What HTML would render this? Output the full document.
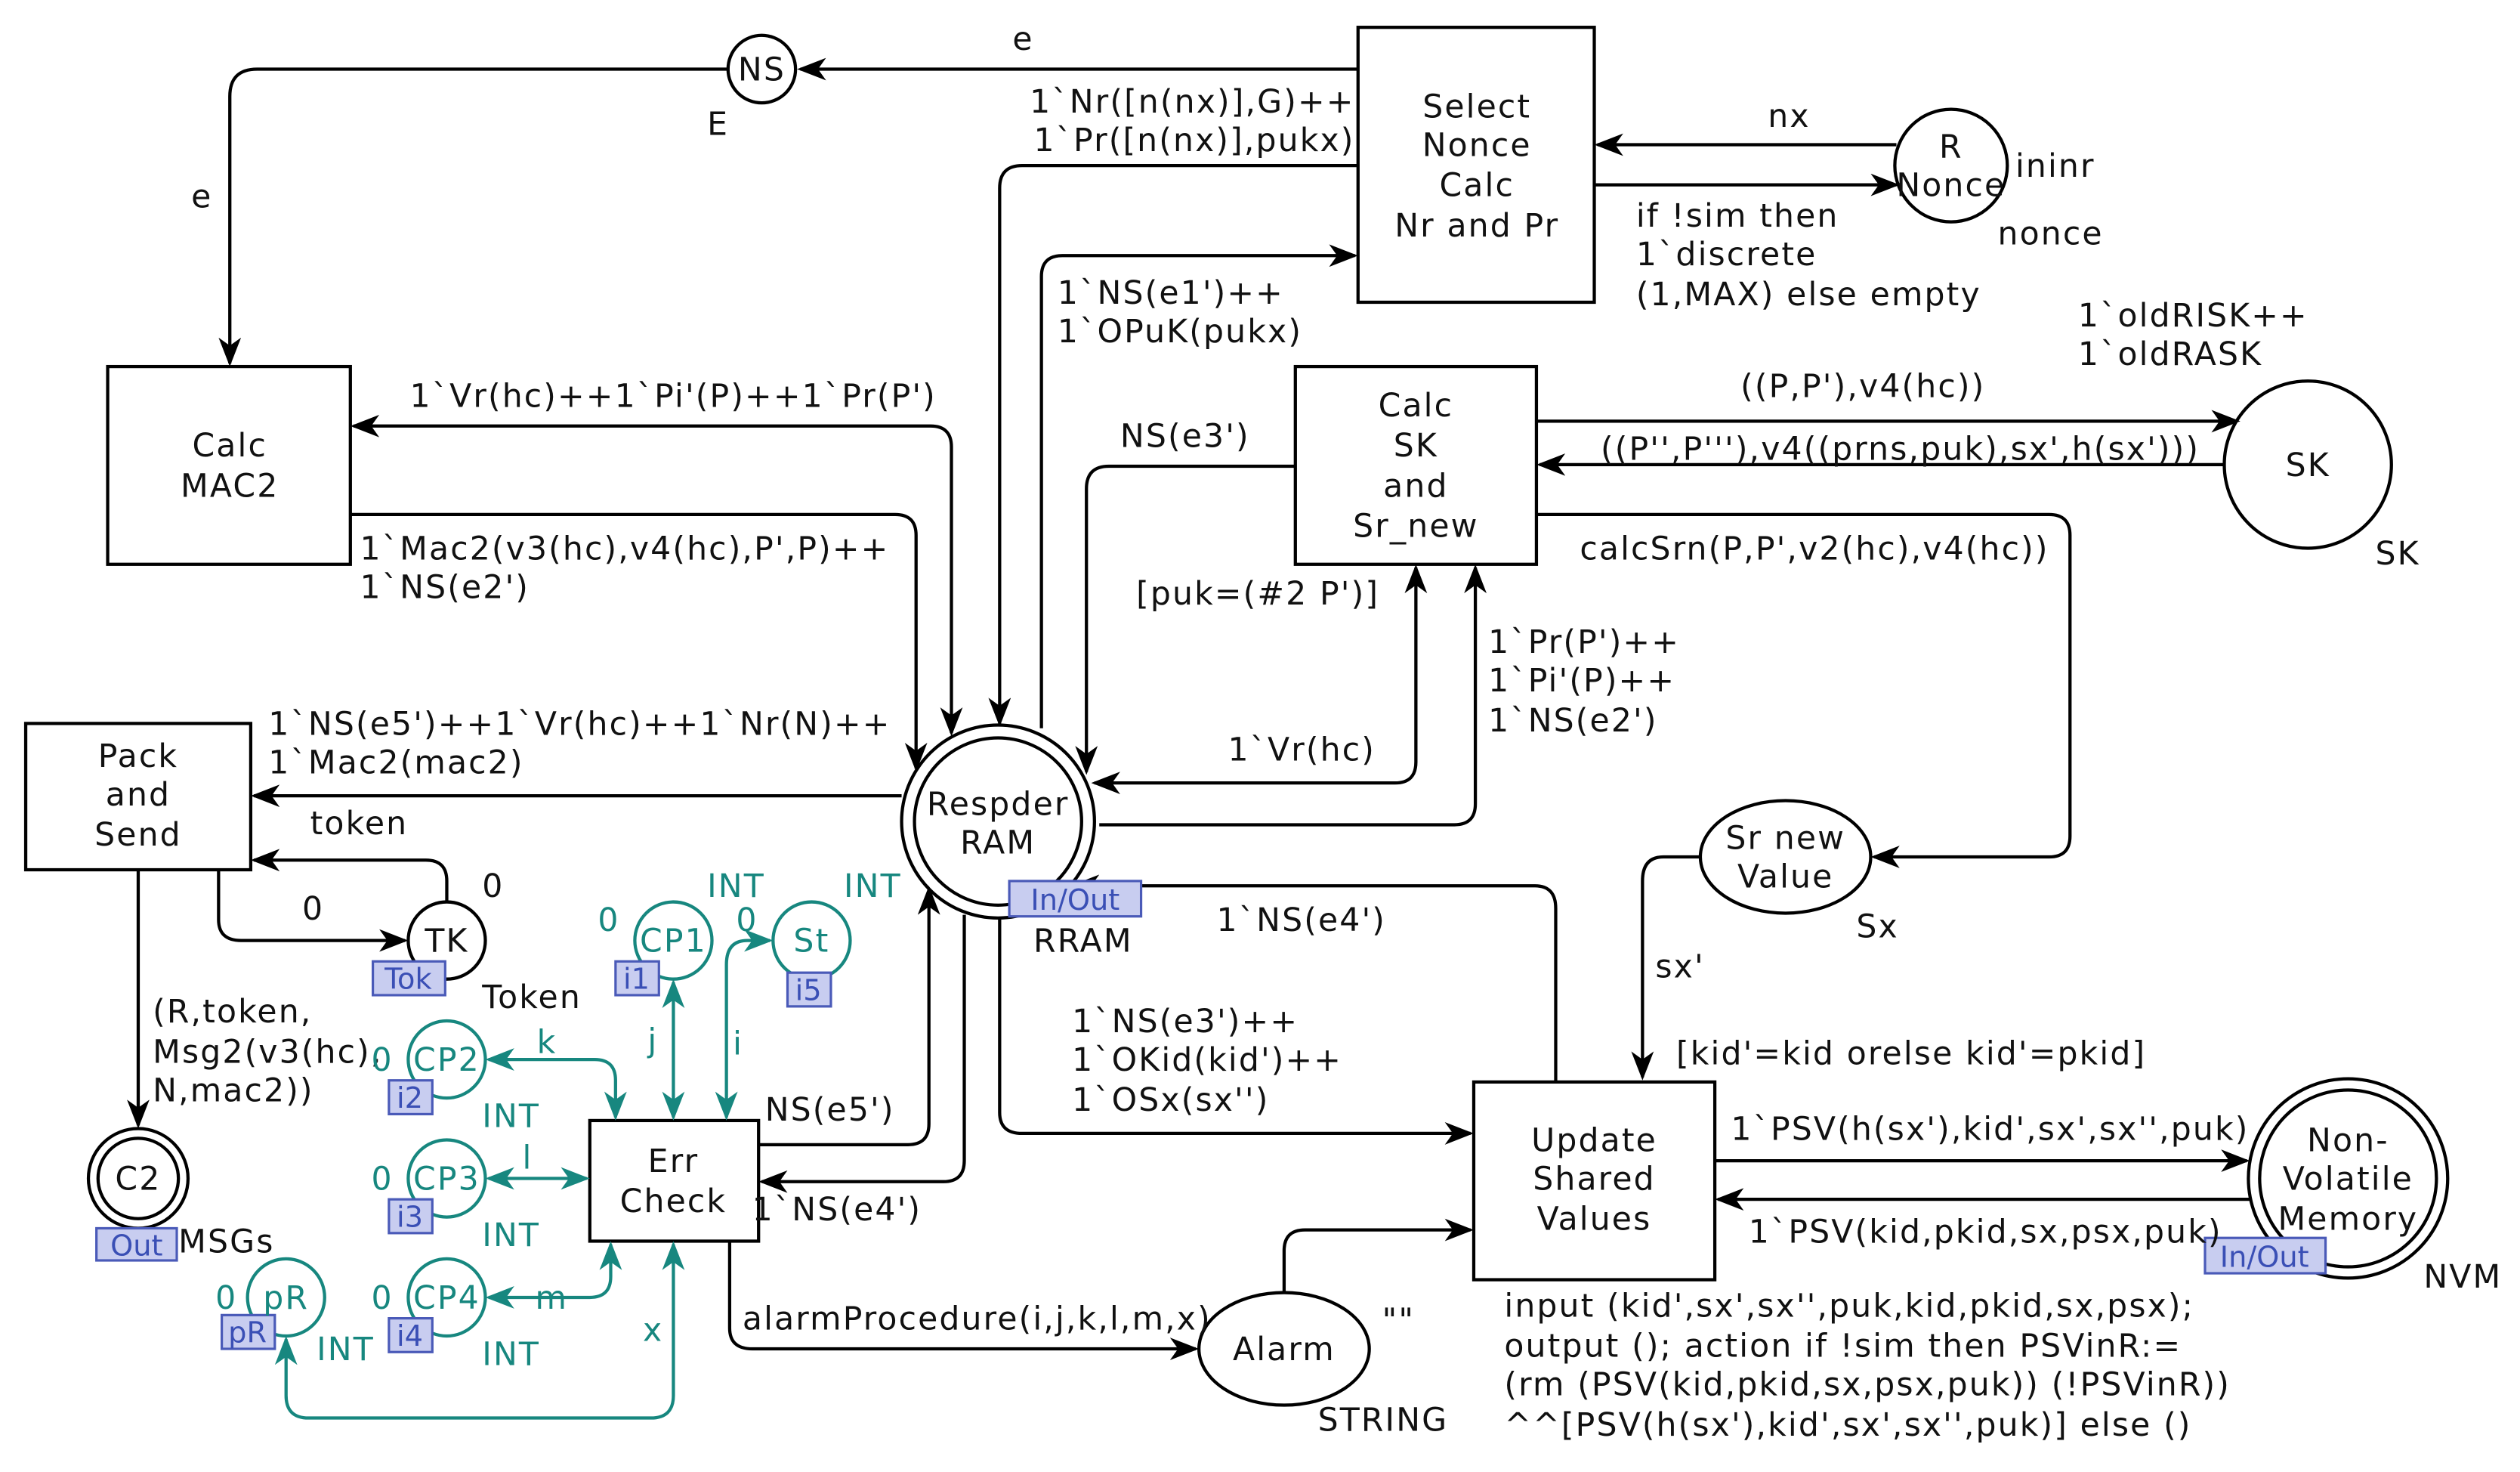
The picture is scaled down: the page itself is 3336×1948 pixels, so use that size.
<!DOCTYPE html>
<html><head><meta charset="utf-8"><style>
html,body{margin:0;padding:0;background:#fff;}
svg{display:block;}
text{font-family:"DejaVu Sans","Liberation Sans",sans-serif;font-size:20px;letter-spacing:1px;fill:#111;}
.t{fill:#17877f;}
.c{text-anchor:middle;}
.r{text-anchor:end;}
.tag{fill:#c8cdf0;stroke:#4a5ab8;stroke-width:1.5;}
.tg{fill:#3a4fb5;font-size:18px;letter-spacing:0;}
</style></head><body>
<svg width="3336" height="1948" viewBox="0 0 1568 915.6" preserveAspectRatio="none" xmlns="http://www.w3.org/2000/svg">
<defs>
<marker id="a" markerUnits="userSpaceOnUse" markerWidth="18" markerHeight="14" refX="16" refY="7" orient="auto-start-reverse"><path d="M0,0 L18,7 L0,14 L5,7 z" fill="#000"/></marker>
<marker id="b" markerUnits="userSpaceOnUse" markerWidth="18" markerHeight="14" refX="16" refY="7" orient="auto-start-reverse"><path d="M0,0 L18,7 L0,14 L5,7 z" fill="#17877f"/></marker>
</defs>
<g fill="none" stroke="#000" stroke-width="2">
<circle cx="474" cy="43" r="21"/>
<rect x="845" y="17" width="147" height="171"/>
<circle cx="1214" cy="103" r="35"/>
<rect x="67" y="228" width="151" height="123"/>
<rect x="806" y="228" width="150" height="123"/>
<circle cx="1436" cy="289" r="52"/>
<ellipse cx="1111" cy="533" rx="53" ry="35"/>
<rect x="917" y="673" width="150" height="123"/>
<circle cx="1461" cy="733" r="62"/><circle cx="1461" cy="733" r="55"/>
<ellipse cx="799" cy="839" rx="53" ry="35"/>
<rect x="367" y="697" width="105" height="75"/>
<circle cx="621" cy="511" r="60"/><circle cx="621" cy="511" r="52"/>
<rect x="16" y="450" width="140" height="91"/>
<circle cx="86" cy="733" r="31"/><circle cx="86" cy="733" r="25"/>
<circle cx="278" cy="585" r="24"/>
<path d="M845,43 L498,43" marker-end="url(#a)"/>
<path d="M453,43 L160,43 Q143,43 143,60 L143,226" marker-end="url(#a)"/>
<path d="M1180,90 L994,90" marker-end="url(#a)"/>
<path d="M992,115 L1180,115" marker-end="url(#a)"/>
<path d="M956,262 L1392,262" marker-end="url(#a)"/>
<path d="M1384,289 L958,289" marker-end="url(#a)"/>
<path d="M956,320 L1275,320 Q1288,320 1288,333 L1288,520 Q1288,533 1275,533 L1166,533" marker-end="url(#a)"/>
<path d="M1058,533 L1035,533 Q1022,533 1022,548 L1022,670" marker-end="url(#a)"/>
<path d="M1067,722 L1398,722" marker-end="url(#a)"/>
<path d="M1400,746 L1069,746" marker-end="url(#a)"/>
<path d="M799,804 L799,778 Q799,765 812,765 L915,765" marker-end="url(#a)"/>
<path d="M454,772 L454,826 Q454,839 468,839 L744,839" marker-end="url(#a)"/>
<path d="M561,495 L158,495" marker-end="url(#a)"/>
<path d="M592,456 L592,278 Q592,265 579,265 L220,265" marker-start="url(#a)" marker-end="url(#a)"/>
<path d="M218,320 L557,320 Q570,320 570,333 L570,478" marker-end="url(#a)"/>
<path d="M845,103 L636,103 Q622,103 622,117 L622,450" marker-end="url(#a)"/>
<path d="M648,453 L648,172 Q648,159 661,159 L843,159" marker-end="url(#a)"/>
<path d="M806,290 L690,290 Q676,290 676,304 L676,480" marker-end="url(#a)"/>
<path d="M681,487 L868,487 Q881,487 881,474 L881,353" marker-start="url(#a)" marker-end="url(#a)"/>
<path d="M684,513 L905,513 Q918,513 918,500 L918,353" marker-end="url(#a)"/>
<path d="M968,673 L968,565 Q968,551 955,551 L668,551" marker-end="url(#a)"/>
<path d="M622,571 L622,692 Q622,705 636,705 L915,705" marker-end="url(#a)"/>
<path d="M472,712 L565,712 Q578,712 578,699 L578,553" marker-end="url(#a)"/>
<path d="M600,569 L600,722 Q600,735 587,735 L474,735" marker-end="url(#a)"/>
<path d="M86,541 L86,700" marker-end="url(#a)"/>
<path d="M136,541 L136,572 Q136,585 150,585 L252,585" marker-end="url(#a)"/>
<path d="M278,561 L278,548 Q278,535 265,535 L158,535" marker-end="url(#a)"/>
</g>
<g fill="none" stroke="#17877f" stroke-width="2">
<circle cx="419" cy="585" r="24"/>
<circle cx="505" cy="585" r="24"/>
<circle cx="278" cy="659" r="24"/>
<circle cx="278" cy="733" r="24"/>
<circle cx="278" cy="807" r="24"/>
<circle cx="178" cy="807" r="24"/>
<path d="M419,611 L419,695" marker-start="url(#b)" marker-end="url(#b)"/>
<path d="M479,585 L465,585 Q452,585 452,600 L452,695" marker-start="url(#b)" marker-end="url(#b)"/>
<path d="M304,659 L370,659 Q383,659 383,672 L383,695" marker-start="url(#b)" marker-end="url(#b)"/>
<path d="M304,733 L365,733" marker-start="url(#b)" marker-end="url(#b)"/>
<path d="M304,807 L367,807 Q380,807 380,794 L380,774" marker-start="url(#b)" marker-end="url(#b)"/>
<path d="M419,774 L419,868 Q419,882 405,882 L192,882 Q178,882 178,868 L178,833" marker-start="url(#b)" marker-end="url(#b)"/>
</g>
<rect class="tag" x="628" y="548" width="82" height="22"/><text class="tg" x="669" y="566" text-anchor="middle">In/Out</text>
<rect class="tag" x="1372" y="770" width="75" height="22"/><text class="tg" x="1409" y="788" text-anchor="middle">In/Out</text>
<rect class="tag" x="60" y="764" width="50" height="20"/><text class="tg" x="85" y="781" text-anchor="middle">Out</text>
<rect class="tag" x="232" y="598" width="45" height="21"/><text class="tg" x="254" y="615" text-anchor="middle">Tok</text>
<rect class="tag" x="383" y="598" width="27" height="21"/><text class="tg" x="396" y="615" text-anchor="middle">i1</text>
<rect class="tag" x="490" y="605" width="27" height="21"/><text class="tg" x="503" y="622" text-anchor="middle">i5</text>
<rect class="tag" x="242" y="672" width="27" height="21"/><text class="tg" x="255" y="689" text-anchor="middle">i2</text>
<rect class="tag" x="242" y="746" width="27" height="21"/><text class="tg" x="255" y="763" text-anchor="middle">i3</text>
<rect class="tag" x="242" y="820" width="27" height="21"/><text class="tg" x="255" y="837" text-anchor="middle">i4</text>
<rect class="tag" x="138" y="818" width="33" height="21"/><text class="tg" x="154" y="835" text-anchor="middle">pR</text>
<text class="c" x="474" y="50">NS</text>
<text x="440" y="84">E</text>
<text x="630" y="31">e</text>
<text class="c" x="919" y="73">Select</text><text class="c" x="919" y="97">Nonce</text><text class="c" x="919" y="122">Calc</text><text class="c" x="919" y="147">Nr and Pr</text>
<text class="c" x="1214" y="98">R</text><text class="c" x="1214" y="122">Nonce</text>
<text x="1254" y="110">ininr</text><text x="1243" y="152">nonce</text>
<text x="1100" y="79">nx</text>
<text x="1018" y="141">if !sim then</text><text x="1018" y="165">1`discrete</text><text x="1018" y="190">(1,MAX) else empty</text>
<text class="r" x="843" y="70">1`Nr([n(nx)],G)++</text><text class="r" x="843" y="94">1`Pr([n(nx)],pukx)</text>
<text x="119" y="129">e</text>
<text class="c" x="143" y="284">Calc</text><text class="c" x="143" y="309">MAC2</text>
<text class="c" x="881" y="259">Calc</text><text class="c" x="881" y="284">SK</text><text class="c" x="881" y="309">and</text><text class="c" x="881" y="334">Sr_new</text>
<text class="c" x="1436" y="296">SK</text><text x="1478" y="351">SK</text>
<text x="1293" y="203">1`oldRISK++</text><text x="1293" y="227">1`oldRASK</text>
<text x="1083" y="247">((P,P'),v4(hc))</text>
<text x="996" y="286">((P'',P'''),v4((prns,puk),sx',h(sx')))</text>
<text x="983" y="348">calcSrn(P,P',v2(hc),v4(hc))</text>
<text class="c" x="1111" y="528">Sr new</text><text class="c" x="1111" y="552">Value</text>
<text x="1155" y="583">Sx</text><text x="1030" y="608">sx'</text>
<text x="1043" y="662">[kid'=kid orelse kid'=pkid]</text>
<text class="c" x="992" y="716">Update</text><text class="c" x="992" y="740">Shared</text><text class="c" x="992" y="765">Values</text>
<text class="c" x="1461" y="716">Non-</text><text class="c" x="1461" y="740">Volatile</text><text class="c" x="1461" y="765">Memory</text>
<text x="1508" y="801">NVM</text>
<text x="1077" y="709">1`PSV(h(sx'),kid',sx',sx'',puk)</text>
<text x="1088" y="773">1`PSV(kid,pkid,sx,psx,puk)</text>
<text x="936" y="819">input (kid',sx',sx'',puk,kid,pkid,sx,psx);</text>
<text x="936" y="844">output (); action if !sim then PSVinR:=</text>
<text x="936" y="868">(rm (PSV(kid,pkid,sx,psx,puk)) (!PSVinR))</text>
<text x="936" y="893">^^[PSV(h(sx'),kid',sx',sx'',puk)] else ()</text>
<text class="c" x="799" y="846">Alarm</text><text x="860" y="828">""</text><text x="820" y="890">STRING</text>
<text x="462" y="827">alarmProcedure(i,j,k,l,m,x)</text>
<text class="c" x="419" y="729">Err</text><text class="c" x="419" y="754">Check</text>
<text class="c" x="621" y="507">Respder</text><text class="c" x="621" y="531">RAM</text>
<text x="643" y="592">RRAM</text>
<text class="c" x="86" y="477">Pack</text><text class="c" x="86" y="501">and</text><text class="c" x="86" y="526">Send</text>
<text x="167" y="457">1`NS(e5')++1`Vr(hc)++1`Nr(N)++</text><text x="167" y="481">1`Mac2(mac2)</text>
<text x="255" y="253">1`Vr(hc)++1`Pi'(P)++1`Pr(P')</text>
<text x="224" y="348">1`Mac2(v3(hc),v4(hc),P',P)++</text><text x="224" y="372">1`NS(e2')</text>
<text x="658" y="189">1`NS(e1')++</text><text x="658" y="213">1`OPuK(pukx)</text>
<text x="697" y="278">NS(e3')</text>
<text x="707" y="376">[puk=(#2 P')]</text>
<text x="764" y="473">1`Vr(hc)</text>
<text x="926" y="406">1`Pr(P')++</text><text x="926" y="430">1`Pi'(P)++</text><text x="926" y="455">1`NS(e2')</text>
<text x="757" y="579">1`NS(e4')</text>
<text x="667" y="642">1`NS(e3')++</text><text x="667" y="666">1`OKid(kid')++</text><text x="667" y="691">1`OSx(sx'')</text>
<text x="476" y="697">NS(e5')</text>
<text x="468" y="759">1`NS(e4')</text>
<text x="95" y="636">(R,token,</text><text x="95" y="661">Msg2(v3(hc),</text><text x="95" y="685">N,mac2))</text>
<text class="c" x="86" y="740">C2</text><text x="111" y="779">MSGs</text>
<text class="c" x="278" y="592">TK</text><text x="300" y="627">Token</text><text x="300" y="558">0</text>
<text x="188" y="572">0</text><text x="193" y="519">token</text>
<text class="t c" x="419" y="592">CP1</text><text class="t" x="372" y="579">0</text><text class="t" x="440" y="558">INT</text>
<text class="t c" x="505" y="592">St</text><text class="t" x="458" y="579">0</text><text class="t" x="525" y="558">INT</text>
<text class="t c" x="278" y="666">CP2</text><text class="t" x="231" y="666">0</text><text class="t" x="300" y="701">INT</text><text class="t" x="334" y="655">k</text>
<text class="t c" x="278" y="740">CP3</text><text class="t" x="231" y="740">0</text><text class="t" x="300" y="775">INT</text><text class="t" x="325" y="727">l</text>
<text class="t c" x="278" y="814">CP4</text><text class="t" x="231" y="814">0</text><text class="t" x="300" y="849">INT</text><text class="t" x="333" y="814">m</text>
<text class="t c" x="178" y="814">pR</text><text class="t" x="134" y="814">0</text><text class="t" x="197" y="846">INT</text>
<text class="t" x="403" y="654">j</text><text class="t" x="456" y="656">i</text><text class="t" x="400" y="834">x</text>
</svg>
</body></html>
